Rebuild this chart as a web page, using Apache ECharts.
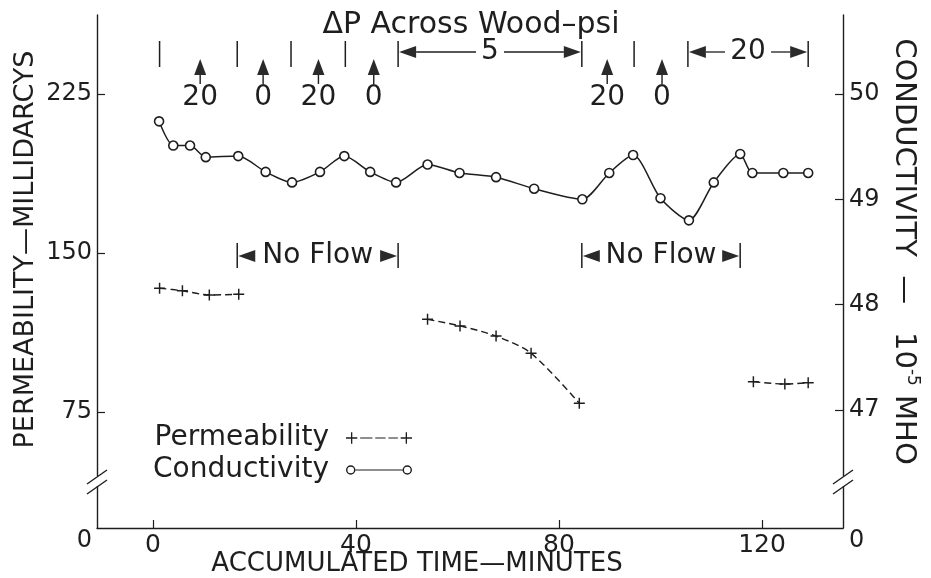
<!DOCTYPE html>
<html><head><meta charset="utf-8">
<script src="https://cdn.jsdelivr.net/npm/echarts@6/dist/echarts.min.js"></script>
<style>html,body{margin:0;padding:0;background:#fff}#c{width:931px;height:578px}</style>
</head><body><div id="c"></div>
<script>
// ---- data ----
const condTime  = [1.2, 4.0, 7.3, 10.4, 16.8, 22.2, 27.4, 32.9, 37.7, 42.8, 47.9, 54.1, 60.4, 67.6, 75.1, 84.6, 89.9, 94.6, 100.0, 105.6, 110.5, 115.7, 118.1, 124.2, 129.1];
const condValue = [49.74, 49.51, 49.51, 49.40, 49.41, 49.26, 49.16, 49.26, 49.41, 49.26, 49.16, 49.33, 49.25, 49.21, 49.10, 49.00, 49.25, 49.42, 49.01, 48.80, 49.16, 49.43, 49.25, 49.25, 49.25];
// null separates the three measured runs
const permTime  = [1.3, 5.8, 11.1, 16.9, null, 54.1, 60.5, 67.6, 74.5, 84.0, null, 118.3, 124.5, 129.1];
const permValue = [133.4, 132.2, 130.2, 130.5, null, 118.7, 115.6, 110.8, 102.7, 79.1, null, 89.3, 88.2, 88.8];

const xTicks = [0, 40, 80, 120];
const leftTicks = [75, 150, 225];
const rightTicks = [47, 48, 49, 50];
const breakLabel = '0';

// pressure annotations (time positions)
const dpBars = [1.3, 16.6, 27.2, 37.9, 48.3, 84.5, 94.8, 105.4, 129.1];
const dpSteps = [9.3, 21.7, 32.6, 43.5, 89.5, 100.3];
const dpStepLabels = ['20', '0', '20', '0', '20', '0'];
const dpSpanFrom = [48.3, 105.4];
const dpSpanTo = [84.5, 129.1];
const dpSpanLabels = ['5', '20'];
const noFlowFrom = [16.6, 84.5];
const noFlowTo = [48.3, 115.7];

// ---- axis ranges (break at bottom) ----
const xMin = -11.03, xMax = 135.96;
const leftMin = 20.28, leftMax = 262.26;
const rightMin = 45.878, rightMax = 50.750;

const INK = '#1e1e1e';
const FONT = 'DejaVu Sans';

function groups(ts, vs) {
  const out = []; let cur = [];
  ts.forEach((t, i) => {
    if (t === null) { if (cur.length) out.push(cur); cur = []; }
    else cur.push([t, vs[i]]);
  });
  if (cur.length) out.push(cur);
  return out;
}

const crossPath = 'path://M-0.8,-6H0.8V-0.8H6V0.8H0.8V6H-0.8V0.8H-6V-0.8H-0.8Z';
const permIcon = 'path://M5.3,1H6.7V6.3H12V7.7H6.7V13H5.3V7.7H0V6.3H5.3Z M63.3,1H64.7V6.3H70V7.7H64.7V13H63.3V7.7H58V6.3H63.3Z M15,6.4H28V7.6H15Z M31,6.4H42V7.6H31Z M45,6.4H55V7.6H45Z';
const condIcon = 'path://M0,7A5,5 0 1,0 10,7A5,5 0 1,0 0,7Z M1.5,7A3.5,3.5 0 1,1 8.5,7A3.5,3.5 0 1,1 1.5,7Z M10,6.4H60V7.6H10Z M60,7A5,5 0 1,0 70,7A5,5 0 1,0 60,7Z M61.5,7A3.5,3.5 0 1,1 68.5,7A3.5,3.5 0 1,1 61.5,7Z';

const permSeries = groups(permTime, permValue).map(g => ({
  name: 'Permeability', type: 'line', yAxisIndex: 0, data: g,
  smooth: 0.3, symbol: crossPath, symbolSize: 11,
  itemStyle: { color: INK },
  lineStyle: { color: INK, width: 1.4, type: [7, 4] },
  emphasis: { disabled: true }, z: 3
}));

const chart = echarts.init(document.getElementById('c'), null, { renderer: 'canvas' });

const tickLabelStyle = { color: INK, fontFamily: FONT, fontSize: 24, lineHeight: 26 };

chart.setOption({
  animation: false,
  backgroundColor: '#fff',
  textStyle: { fontFamily: FONT, color: INK },
  grid: { left: 97, right: 88, top: 15, bottom: 50, containLabel: false, outerBoundsMode: 'none' },
  xAxis: {
    type: 'value', min: xMin, max: xMax,
    name: 'ACCUMULATED TIME—MINUTES', nameLocation: 'middle', nameGap: 23, nameMoveOverlap: false,
    nameTextStyle: { fontFamily: FONT, fontSize: 26, color: INK, padding: [0, 106, 0, 0] },
    axisLine: { show: true, onZero: false, lineStyle: { color: INK, width: 1.4 } },
    axisTick: { show: true, inside: true, length: 8, customValues: xTicks, lineStyle: { color: INK, width: 1.2 } },
    axisLabel: { customValues: xTicks, margin: 5, color: INK, fontFamily: FONT, fontSize: 25 },
    splitLine: { show: false }
  },
  yAxis: [{
    type: 'value', position: 'left', min: leftMin, max: leftMax,
    name: 'PERMEABILITY—MILLIDARCYS', nameLocation: 'middle', nameRotate: 90, nameGap: 58, nameMoveOverlap: false,
    nameTextStyle: { fontFamily: FONT, fontSize: 27, color: INK, padding: [0, 0, 0, 44] },
    axisLine: { show: true, onZero: false, lineStyle: { color: INK, width: 1.4 } },
    axisTick: { show: true, inside: true, length: 8, customValues: leftTicks, lineStyle: { color: INK, width: 1.2 } },
    axisLabel: Object.assign({ customValues: [leftMin].concat(leftTicks), margin: 5,
      formatter: v => v < leftTicks[0] - 1 ? '\n' + breakLabel : String(v) }, tickLabelStyle),
    splitLine: { show: false }
  }, {
    type: 'value', position: 'right', min: rightMin, max: rightMax,
    name: 'CONDUCTIVITY  —   10{sup|-5} MHO', nameLocation: 'middle', nameRotate: -90, nameGap: 44, nameMoveOverlap: false,
    nameTextStyle: { fontFamily: FONT, fontSize: 29, color: INK, lineHeight: 34, padding: [0, 40, 0, 0],
      rich: { sup: { fontFamily: FONT, fontSize: 17, color: INK, verticalAlign: 'top', lineHeight: 34 } } },
    axisLine: { show: true, onZero: false, lineStyle: { color: INK, width: 1.4 } },
    axisTick: { show: true, inside: true, length: 8, customValues: rightTicks, lineStyle: { color: INK, width: 1.2 } },
    axisLabel: Object.assign({ customValues: [rightMin].concat(rightTicks), margin: 6,
      formatter: v => v < rightTicks[0] - 0.5 ? '\n' + breakLabel : String(v) }, tickLabelStyle),
    splitLine: { show: false }
  }],
  legend: {
    orient: 'vertical', left: 148, top: 419, align: 'right', itemGap: 4,
    itemWidth: 66, itemHeight: 13,
    textStyle: { fontFamily: FONT, fontSize: 28, color: INK, padding: [0, 12, 0, 0] },
    data: [
      { name: 'Permeability', icon: permIcon, itemStyle: { color: INK, borderWidth: 0 } },
      { name: 'Conductivity', icon: condIcon, itemStyle: { color: INK, borderWidth: 0 } }
    ]
  },
  series: permSeries.concat([{
    name: 'Conductivity', type: 'line', yAxisIndex: 1,
    data: condTime.map((t, i) => [t, condValue[i]]),
    smooth: 0.25, symbol: 'circle', symbolSize: 9,
    itemStyle: { color: '#fff', borderColor: INK, borderWidth: 1.6 },
    lineStyle: { color: INK, width: 1.5 },
    emphasis: { disabled: true }, z: 4
  }])
});

// ---- annotations anchored to the time axis ----
const X = t => chart.convertToPixel({ xAxisIndex: 0 }, t);
const g = [];
const line = (x1, y1, x2, y2, w) => g.push({ type: 'line', silent: true, z: 10,
  shape: { x1, y1, x2, y2 }, style: { stroke: INK, lineWidth: w || 1.5 } });
const tri = pts => g.push({ type: 'polygon', silent: true, z: 10,
  shape: { points: pts }, style: { fill: '#2a2a2a' } });
const txt = (x, y, s, size) => g.push({ type: 'text', silent: true, z: 10, x, y,
  style: { text: s, fontFamily: FONT, fontSize: size || 25, fill: INK, align: 'center', verticalAlign: 'middle' } });

txt(471, 25, 'ΔP Across Wood–psi', 30);
dpBars.forEach(t => line(X(t), 41, X(t), 67));
dpSteps.forEach((t, i) => {
  const x = X(t);
  tri([[x, 59], [x - 6, 75], [x + 6, 75]]);
  line(x, 75, x, 84, 1.4);
  txt(x, 98, dpStepLabels[i], 28);
});
function span(x1, x2, y, label, size, cw) {
  const cx = (x1 + x2) / 2, hw = label.length * cw / 2 + 5;
  tri([[x1 + 1, y], [x1 + 18, y - 6], [x1 + 18, y + 6]]);
  tri([[x2 - 1, y], [x2 - 18, y - 6], [x2 - 18, y + 6]]);
  if (cx - hw > x1 + 20) { line(x1 + 18, y, cx - hw, y, 1.3); line(cx + hw, y, x2 - 18, y, 1.3); }
  txt(cx, y, label, size);
}
dpSpanFrom.forEach((t, i) => span(X(t), X(dpSpanTo[i]), 52, dpSpanLabels[i], 28, 18));
noFlowFrom.forEach((t, i) => {
  const x1 = X(t), x2 = X(noFlowTo[i]);
  line(x1, 243, x1, 268); line(x2, 243, x2, 268);
  span(x1, x2, 256, 'No Flow', 28, 20);
});
// axis break marks
[97, 843].forEach(x => {
  g.push({ type: 'rect', silent: true, z: 9, shape: { x: x - 3, y: 476, width: 6, height: 10 }, style: { fill: '#fff' } });
  line(x - 10, 484, x + 10, 470, 1.4);
  line(x - 10, 494, x + 10, 480, 1.4);
});
chart.setOption({ graphic: g });
</script></body></html>
